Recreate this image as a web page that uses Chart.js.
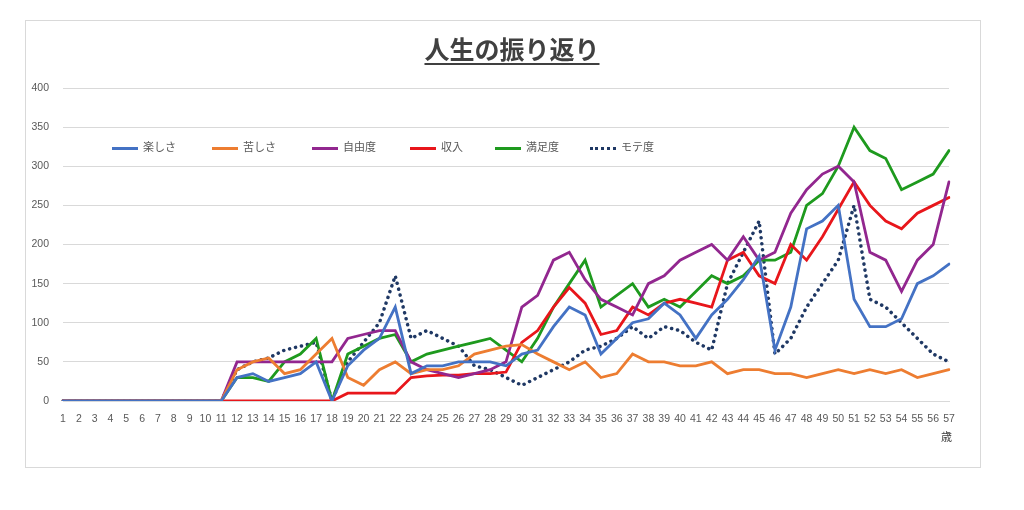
<!DOCTYPE html>
<html><head><meta charset="utf-8">
<script src="https://cdn.jsdelivr.net/npm/chart.js@4"></script>
<style>
body{margin:0;background:#fff;font-family:"Noto Sans CJK JP",sans-serif;}
#box{position:absolute;left:25px;top:20px;width:954px;height:446px;border:1px solid #d9d9d9;}
#wrap{position:absolute;left:0;top:0;width:1024px;height:510px;}
#title{position:absolute;left:0;width:1024px;top:30px;text-align:center;font-size:25px;font-weight:bold;color:#404040;text-decoration:underline;text-underline-offset:4px;}
#legend{position:absolute;top:138px;left:112px;font-size:11px;color:#595959;}
.li{position:absolute;white-space:nowrap;}
.sw{display:inline-block;width:26px;height:0;vertical-align:middle;margin-right:5px;}
#sai{position:absolute;left:941px;top:428px;font-size:11px;color:#404040;}
</style></head><body>
<div id="box"></div>
<div id="wrap"><canvas id="c" width="1024" height="510"></canvas></div>
<div id="title">人生の振り返り</div>
<div id="legend"></div>
<div id="sai">歳</div>
<script>
const ages = Array.from({length:57},(_,i)=>String(i+1));
const z11 = [0,0,0,0,0,0,0,0,0,0,0];
const tanoshisa = z11.concat([30,35,25,30,35,50,0,45,65,80,120,35,45,45,50,50,50,45,60,65,95,120,110,60,80,100,105,125,110,80,110,130,155,185,65,120,220,230,250,130,95,95,105,150,160,175]);
const kurushisa = z11.concat([40,50,55,35,40,60,80,30,20,40,50,35,40,40,45,60,65,70,72,60,50,40,50,30,35,60,50,50,45,45,50,35,40,40,35,35,30,35,40,35,40,35,40,30,35,40]);
const jiyudo = z11.concat([50,50,50,50,50,50,50,80,85,90,90,50,40,35,30,35,40,50,120,135,180,190,155,130,120,110,150,160,180,190,200,180,210,180,190,240,270,290,300,280,190,180,140,180,200,280]);
const shunyu = z11.concat([0,0,0,0,0,0,0,10,10,10,10,30,32,33,33,35,35,37,75,90,120,145,125,85,90,120,110,125,130,125,120,180,190,160,150,200,180,210,245,280,250,230,220,240,250,260]);
const manzokudo = z11.concat([30,30,25,50,60,80,0,60,70,80,85,50,60,65,70,75,80,65,50,80,120,150,180,120,135,150,120,130,120,140,160,150,160,180,180,190,250,265,300,350,320,310,270,280,290,320]);
const motedo = z11.concat([40,50,55,65,70,75,0,50,75,100,160,80,90,80,70,45,40,30,20,30,40,50,65,70,80,95,80,95,90,75,65,150,190,230,60,80,120,150,180,250,130,120,100,80,60,50]);
const yTicks = [0,50,100,150,200,250,300,350,400];

const series = [
 {label:'楽しさ',data:tanoshisa,color:'#4472c4',dash:[]},
 {label:'苦しさ',data:kurushisa,color:'#ed7d31',dash:[]},
 {label:'自由度',data:jiyudo,color:'#92278f',dash:[]},
 {label:'収入',data:shunyu,color:'#e8161b',dash:[]},
 {label:'満足度',data:manzokudo,color:'#1e9a1e',dash:[]},
 {label:'モテ度',data:motedo,color:'#1f3864',dash:[0.1,6]},
];
const lg=document.getElementById('legend');
const lx=[0,100,200,298,383,478];
series.forEach((s,i)=>{
 const d=document.createElement('div');d.className='li';d.style.left=lx[i]+'px';
 const b=s.dash.length?`3px dotted ${s.color}`:`3px solid ${s.color}`;
 d.innerHTML=`<span class="sw" style="border-top:${b}"></span>${s.label}`;
 lg.appendChild(d);
});
new Chart(document.getElementById('c'),{
 type:'line',
 data:{labels:ages,datasets:series.map(s=>({label:s.label,data:s.data,borderColor:s.color,backgroundColor:s.color,borderWidth:s.dash.length?3.5:2.8,borderDash:s.dash,borderCapStyle:'round',pointRadius:0,tension:0}))},
 options:{responsive:false,animation:false,
  layout:{padding:{left:25,right:75,top:88,bottom:0}},
  plugins:{legend:{display:false},tooltip:{enabled:false}},
  scales:{
   x:{grid:{display:false},border:{color:'#d9d9d9'},ticks:{color:'#595959',font:{size:10.5},maxRotation:0,autoSkip:false,padding:4},afterFit:s=>{s.height=109;}},
   y:{min:0,max:400,afterBuildTicks:s=>{s.ticks=yTicks.map(v=>({value:v}));},grid:{color:'#d9d9d9',drawTicks:false},border:{display:false},ticks:{color:'#595959',font:{size:10.5},padding:14},afterFit:s=>{s.width=38;}}
  }}
});
</script></body></html>
